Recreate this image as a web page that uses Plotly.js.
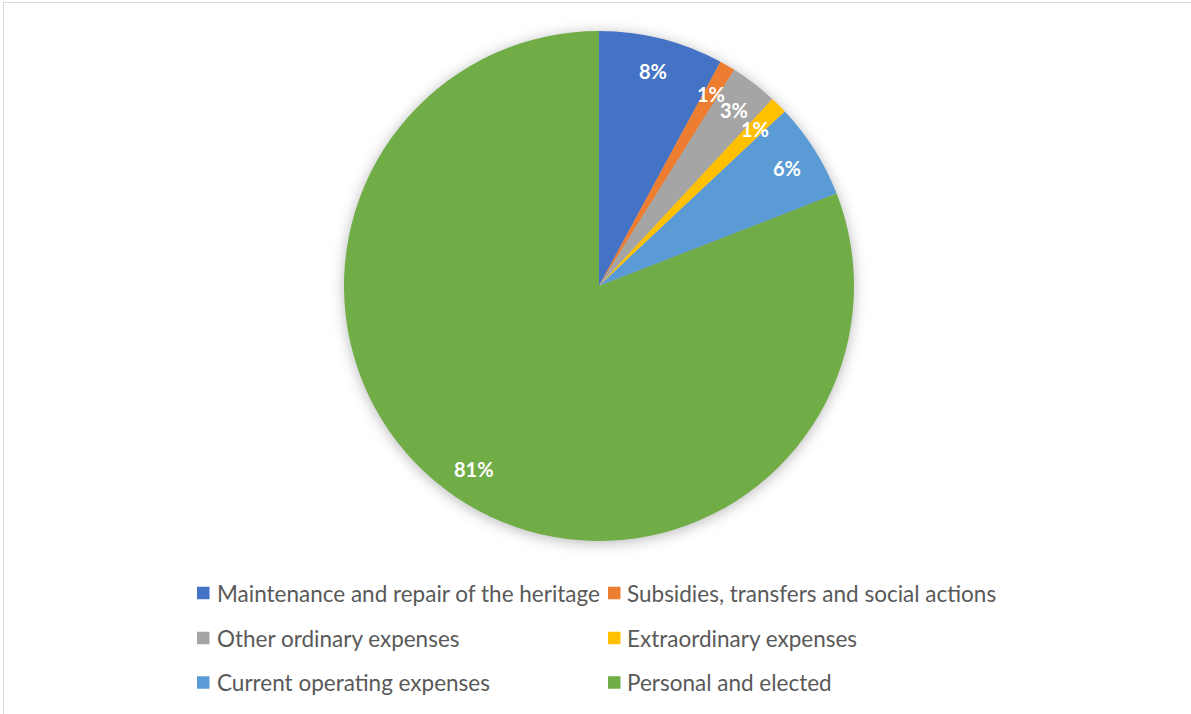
<!DOCTYPE html>
<html>
<head>
<meta charset="utf-8">
<script src="https://cdn.plot.ly/plotly-3.0.1.min.js"></script>
<style>
  html, body { margin: 0; padding: 0; background: #fff; }
  #chart { width: 1191px; height: 714px; }
  .pielayer .trace { filter: drop-shadow(0px 2px 7px rgba(0,0,0,0.28)); }
</style>
</head>
<body>
<div id="chart"></div>
<script>
// ---- data ----
const categories = [
  "Maintenance and repair of the heritage",
  "Subsidies, transfers and social actions",
  "Other ordinary expenses",
  "Extraordinary expenses",
  "Current operating expenses",
  "Personal and elected"
];
const shares = [7.9, 1.0, 3.0, 1.1, 6.1, 80.9];
const sliceColors = ["#4472C4", "#ED7D31", "#A5A5A5", "#FFC000", "#5B9BD5", "#70AD47"];

// ---- layout constants (pixels) ----
const W = 1191, H = 714;
const CX = 599, CY = 286, R = 255;
const LABEL_R = 0.87;
const legendColX = [197, 608];
const legendTextX = [216, 626];
const legendRowY = [593, 638, 682.5];
const MARK = 12.5;
const FONT = "Lato, 'Open Sans', sans-serif";

const px = x => x / W;
const py = y => 1 - y / H;

const total = shares.reduce((a, b) => a + b, 0);

// percent labels positioned along each slice's mid-angle
const annotations = [];
let cum = 0;
shares.forEach((v, i) => {
  const mid = (cum + v / 2) / total * 2 * Math.PI;
  cum += v;
  const lx = CX + LABEL_R * R * Math.sin(mid);
  const ly = CY - LABEL_R * R * Math.cos(mid);
  annotations.push({
    x: px(lx), y: py(ly), xref: "paper", yref: "paper",
    text: Math.round(v / total * 100) + "%",
    showarrow: false, xanchor: "center", yanchor: "middle",
    font: { family: FONT, size: 20, color: "#ffffff", weight: "bold" }
  });
});

// manual legend (two columns, three rows) + chart border
const shapes = [
  { type: "line", xref: "paper", yref: "paper", x0: px(3), x1: 1, y0: py(2.5), y1: py(2.5),
    line: { color: "#D9D9D9", width: 1 } },
  { type: "line", xref: "paper", yref: "paper", x0: px(3.5), x1: px(3.5), y0: py(2.5), y1: 0,
    line: { color: "#D9D9D9", width: 1 } }
];
categories.forEach((c, i) => {
  const col = i % 2, row = Math.floor(i / 2);
  const y = legendRowY[row];
  shapes.push({
    type: "rect", xref: "paper", yref: "paper",
    x0: px(legendColX[col]), x1: px(legendColX[col] + MARK),
    y0: py(y + MARK / 2), y1: py(y - MARK / 2),
    fillcolor: sliceColors[i], line: { width: 0 }
  });
  annotations.push({
    x: px(legendTextX[col]), y: py(y), xref: "paper", yref: "paper",
    text: c, showarrow: false, xanchor: "left", yanchor: "middle",
    borderpad: 0,
    font: { family: FONT, size: 22.5, color: "#595959" }
  });
});

const trace = {
  type: "pie",
  labels: categories,
  values: shares,
  marker: { colors: sliceColors, line: { width: 0 } },
  sort: false,
  direction: "clockwise",
  rotation: 0,
  textinfo: "none",
  hoverinfo: "label+percent",
  domain: { x: [px(CX - R), px(CX + R)], y: [py(CY + R), py(CY - R)] }
};

const layout = {
  width: W, height: H,
  margin: { l: 0, r: 0, t: 0, b: 0 },
  paper_bgcolor: "#ffffff",
  showlegend: false,
  annotations: annotations,
  shapes: shapes,
  font: { family: FONT }
};

Plotly.newPlot("chart", [trace], layout, { displayModeBar: false, staticPlot: true });
</script>
</body>
</html>
